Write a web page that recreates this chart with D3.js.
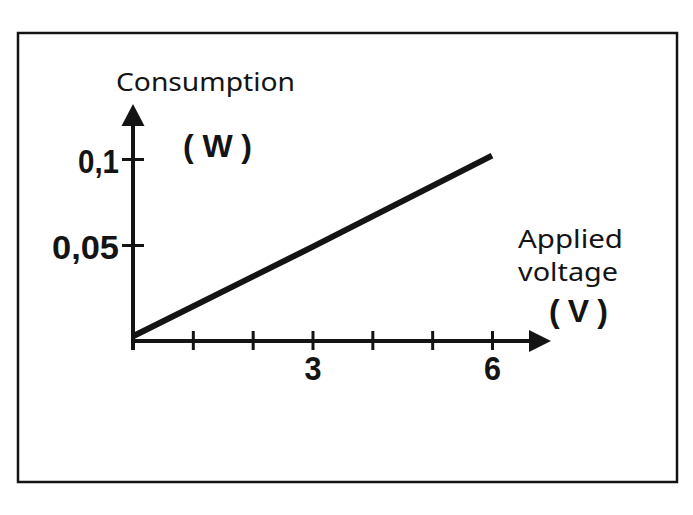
<!DOCTYPE html>
<html>
<head>
<meta charset="utf-8">
<script src="https://cdn.jsdelivr.net/npm/d3@7"></script>
<style>
  html, body { margin: 0; padding: 0; background: #ffffff; }
  svg { display: block; }
</style>
</head>
<body>
<svg id="chart" width="693" height="515"></svg>
<script>
// ---- data ----
const voltage = [0, 3, 6];                 // applied voltage (V)
const consumption = [0.002, 0.049, 0.102]; // consumption (W)
const xTickValues = [1, 2, 3, 4, 5, 6];
const xTickLabels = {3: "3", 6: "6"};
const yTickValues = [0.05, 0.1];
const yTickLabels = {0.05: "0,05", 0.1: "0,1"};
const yTitle = "Consumption";
const yUnit = "( W )";
const xTitle = ["Applied", "voltage"];
const xUnit = "( V )";

const svg = d3.select("#chart");
const ink = "#141414";
const boldFont = "'Liberation Sans', Arial, sans-serif";
const textFont = "'Noto Sans', 'Open Sans', sans-serif";

// frame
svg.append("rect")
  .attr("x", 18).attr("y", 33).attr("width", 659).attr("height", 449)
  .attr("fill", "none").attr("stroke", ink).attr("stroke-width", 2.5);

// scales
const x = d3.scaleLinear().domain([0, 6]).range([133, 492]);
const y = d3.scaleLinear().domain([0, 0.05, 0.1]).range([340, 245, 159]);

const x0 = x(0), y0 = y(0);

// x axis via d3 axis
const gx = svg.append("g").attr("transform", `translate(0,${y0})`)
  .call(d3.axisBottom(x).tickValues(xTickValues).tickSize(9).tickPadding(0)
    .tickFormat(d => xTickLabels[d] || ""));
gx.select(".domain").remove();
gx.selectAll(".tick line")
  .attr("y1", -9).attr("y2", 10).attr("stroke", ink).attr("stroke-width", 3);
gx.selectAll(".tick text")
  .attr("y", 40).attr("dy", 0)
  .attr("font-family", boldFont).attr("font-weight", "bold")
  .attr("font-size", 33).attr("fill", ink)
  .attr("textLength", d => xTickLabels[d] ? 17 : null)
  .attr("lengthAdjust", "spacingAndGlyphs");

// y axis via d3 axis
const gy = svg.append("g").attr("transform", `translate(${x0},0)`)
  .call(d3.axisLeft(y).tickValues(yTickValues).tickSize(11).tickPadding(0)
    .tickFormat(d => yTickLabels[d]));
gy.select(".domain").remove();
gy.selectAll(".tick line")
  .attr("x1", -11).attr("x2", 11).attr("stroke", ink).attr("stroke-width", 3);
gy.selectAll(".tick text")
  .attr("x", -14).attr("dy", 0).attr("y", 13)
  .attr("font-family", boldFont).attr("font-weight", "bold")
  .attr("font-size", 33).attr("fill", ink)
  .attr("textLength", d => yTickLabels[d].length === 4 ? 67 : 41)
  .attr("lengthAdjust", "spacingAndGlyphs");

// axis lines with arrows
svg.append("line")
  .attr("x1", x0).attr("y1", 350).attr("x2", x0).attr("y2", 122)
  .attr("stroke", ink).attr("stroke-width", 4);
svg.append("path")
  .attr("d", `M${x0},104 L${x0 + 11.5},126 L${x0 - 11.5},126 Z`)
  .attr("fill", ink);
svg.append("line")
  .attr("x1", x0 - 2).attr("y1", y0 + 1).attr("x2", 532).attr("y2", y0 + 1)
  .attr("stroke", ink).attr("stroke-width", 4);
svg.append("path")
  .attr("d", `M551,${y0 + 1} L529,${y0 - 10} L529,${y0 + 12} Z`)
  .attr("fill", ink);

// data line
const line = d3.line().x((d, i) => x(voltage[i])).y(d => y(d));
svg.append("path")
  .datum(consumption)
  .attr("d", line)
  .attr("fill", "none").attr("stroke", ink).attr("stroke-width", 6);

// titles
svg.append("text").text(yTitle)
  .attr("x", 116).attr("y", 91)
  .attr("font-family", textFont).attr("font-size", 26)
  .attr("textLength", 179).attr("lengthAdjust", "spacingAndGlyphs")
  .attr("fill", ink);
svg.append("text").text(yUnit)
  .attr("x", 183).attr("y", 157)
  .attr("font-family", boldFont).attr("font-weight", "bold").attr("font-size", 32)
  .attr("textLength", 69).attr("lengthAdjust", "spacing")
  .attr("fill", ink);

svg.append("text").text(xTitle[0])
  .attr("x", 518).attr("y", 248)
  .attr("font-family", textFont).attr("font-size", 26)
  .attr("textLength", 105).attr("lengthAdjust", "spacingAndGlyphs")
  .attr("fill", ink);
svg.append("text").text(xTitle[1])
  .attr("x", 518).attr("y", 281)
  .attr("font-family", textFont).attr("font-size", 26)
  .attr("textLength", 100).attr("lengthAdjust", "spacingAndGlyphs")
  .attr("fill", ink);
svg.append("text").text(xUnit)
  .attr("x", 549).attr("y", 322)
  .attr("font-family", boldFont).attr("font-weight", "bold").attr("font-size", 32)
  .attr("textLength", 59).attr("lengthAdjust", "spacing")
  .attr("fill", ink);
</script>
</body>
</html>
